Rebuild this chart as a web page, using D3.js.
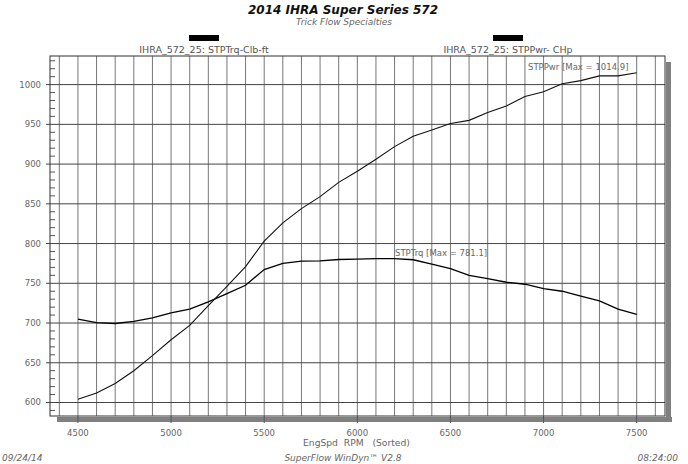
<!DOCTYPE html>
<html lang="en">
<head>
<meta charset="utf-8"/>
<title>2014 IHRA Super Series 572</title>
<script src="https://cdn.jsdelivr.net/npm/d3@7"></script>
<style>
  body { margin: 0; background: #fff; }
  text { font-family: "DejaVu Sans", Verdana, sans-serif; }
</style>
</head>
<body>
<svg id="chart" width="688" height="464"></svg>
<script>
// engine speed, rpm (sorted)
const rpm = [4500, 4600, 4700, 4800, 4900, 5000, 5100, 5200, 5300, 5400, 5500,
             5600, 5700, 5800, 5900, 6000, 6100, 6200, 6300, 6400, 6500,
             6600, 6700, 6800, 6900, 7000, 7100, 7200, 7300, 7400, 7500];
// STPTrq, lb-ft
const torque = [704.8, 700.6, 699.4, 702.0, 706.4, 712.7, 717.4, 726.5, 737.0, 747.5, 767.3,
                775.0, 778.0, 778.3, 779.9, 780.5, 781.0, 781.1, 779.6, 774.0, 768.5,
                760.0, 756.0, 751.3, 748.8, 743.4, 740.0, 733.7, 727.8, 717.4, 711.0];
// STPPwr, hp
const power = [604, 612, 624, 640, 659, 679, 697, 722, 746, 771, 803,
               826, 844, 859, 877, 891, 906, 922, 935, 943, 951,
               955, 965, 973, 985, 991, 1001, 1005, 1011, 1011, 1014.9];

const xTicks = [4500, 5000, 5500, 6000, 6500, 7000, 7500];
const yTicks = [600, 650, 700, 750, 800, 850, 900, 950, 1000];

const svg = d3.select("#chart");
const pLeft = 50, pRight = 665, pTop = 56, pBottom = 416;

const x = d3.scaleLinear().domain([4350, 7652]).range([pLeft, pRight]);
const y = d3.scaleLinear().domain([583, 1036]).range([pBottom, pTop]);

// titles
svg.append("text").attr("x", 343).attr("y", 14).attr("text-anchor", "middle")
  .attr("font-size", 12).attr("font-weight", "bold").attr("font-style", "italic")
  .attr("fill", "#111").text("2014 IHRA Super Series 572");
svg.append("text").attr("x", 344).attr("y", 25).attr("text-anchor", "middle")
  .attr("font-size", 9).attr("font-style", "italic").attr("fill", "#666")
  .text("Trick Flow Specialties");

// legend
const legend = [
  {label: "IHRA_572_25: STPTrq-Clb-ft", cx: 204},
  {label: "IHRA_572_25: STPPwr- CHp", cx: 508}
];
legend.forEach(d => {
  svg.append("rect").attr("x", d.cx - 15).attr("y", 35).attr("width", 30).attr("height", 6)
    .attr("fill", "#000");
  svg.append("text").attr("x", d.cx).attr("y", 53).attr("text-anchor", "middle")
    .attr("font-size", 9.5).attr("fill", "#555").text(d.label);
});

// drop shadow of the frame
svg.append("rect").attr("x", pRight + 1).attr("y", pTop + 6).attr("width", 5)
  .attr("height", pBottom - pTop).attr("fill", "#808080");
svg.append("rect").attr("x", pLeft + 7).attr("y", pBottom + 1).attr("width", pRight - pLeft)
  .attr("height", 5).attr("fill", "#808080");

svg.append("rect").attr("x", pLeft).attr("y", pTop).attr("width", pRight - pLeft)
  .attr("height", pBottom - pTop).attr("fill", "#fff");

// vertical grid every 100 rpm
const g = svg.append("g");
g.selectAll("line.vgrid").data(d3.range(4400, 7601, 100)).enter()
  .append("line").attr("class", "vgrid")
  .attr("x1", d => x(d)).attr("x2", d => x(d))
  .attr("y1", pTop).attr("y2", pBottom)
  .attr("stroke", "#777").attr("stroke-width", 1);

// horizontal grid
g.selectAll("line.hgrid").data(yTicks).enter()
  .append("line").attr("class", "hgrid")
  .attr("x1", pLeft - 4).attr("x2", pRight)
  .attr("y1", d => y(d)).attr("y2", d => y(d))
  .attr("stroke", "#444").attr("stroke-width", 1);

// minor y ticks inside the left edge
g.selectAll("line.minor").data(d3.range(590, 1036, 10).filter(v => v % 50 != 0)).enter()
  .append("line").attr("class", "minor")
  .attr("x1", pLeft).attr("x2", pLeft + 5)
  .attr("y1", d => y(d)).attr("y2", d => y(d))
  .attr("stroke", "#555");

// x ticks through the shadow
g.selectAll("line.xtick").data(xTicks).enter()
  .append("line").attr("class", "xtick")
  .attr("x1", d => x(d)).attr("x2", d => x(d))
  .attr("y1", pBottom).attr("y2", pBottom + 7)
  .attr("stroke", "#555");

svg.append("rect").attr("x", pLeft).attr("y", pTop).attr("width", pRight - pLeft)
  .attr("height", pBottom - pTop).attr("fill", "none").attr("stroke", "#333");

// axis labels
svg.selectAll("text.ylab").data(yTicks).enter()
  .append("text").attr("class", "ylab")
  .attr("x", 41).attr("y", d => y(d) + 3)
  .attr("text-anchor", "end").attr("font-size", 8.5).attr("fill", "#666")
  .text(d => d);
svg.selectAll("text.xlab").data(xTicks).enter()
  .append("text").attr("class", "xlab")
  .attr("x", d => x(d)).attr("y", 436)
  .attr("text-anchor", "middle").attr("font-size", 8.5).attr("fill", "#666")
  .text(d => d);
svg.append("text").attr("x", 303).attr("y", 446).attr("font-size", 9.2)
  .attr("fill", "#666").attr("xml:space", "preserve").text("EngSpd  RPM   (Sorted)");

// curves
const line = d3.line().x(d => x(d[0])).y(d => y(d[1]));
svg.append("path").datum(d3.zip(rpm, torque)).attr("d", line)
  .attr("fill", "none").attr("stroke", "#000").attr("stroke-width", 1.3);
svg.append("path").datum(d3.zip(rpm, power)).attr("d", line)
  .attr("fill", "none").attr("stroke", "#111").attr("stroke-width", 1.1);

// max labels
svg.append("text").attr("x", 528).attr("y", 70).attr("font-size", 8.5).attr("fill", "#666")
  .text("STPPwr [Max = " + d3.max(power).toFixed(1) + "]");
svg.append("text").attr("x", 395).attr("y", 256).attr("font-size", 8.5).attr("fill", "#666")
  .text("STPTrq [Max = " + d3.max(torque).toFixed(1) + "]");

// footer
svg.append("text").attr("x", 2).attr("y", 461).attr("font-size", 9).attr("font-style", "italic")
  .attr("fill", "#666").text("09/24/14");
svg.append("text").attr("x", 343).attr("y", 461).attr("text-anchor", "middle").attr("font-size", 9)
  .attr("font-style", "italic").attr("fill", "#666").text("SuperFlow WinDyn\u2122 V2.8");
svg.append("text").attr("x", 678).attr("y", 461).attr("text-anchor", "end").attr("font-size", 9)
  .attr("font-style", "italic").attr("fill", "#666").text("08:24:00");
</script>
</body>
</html>
